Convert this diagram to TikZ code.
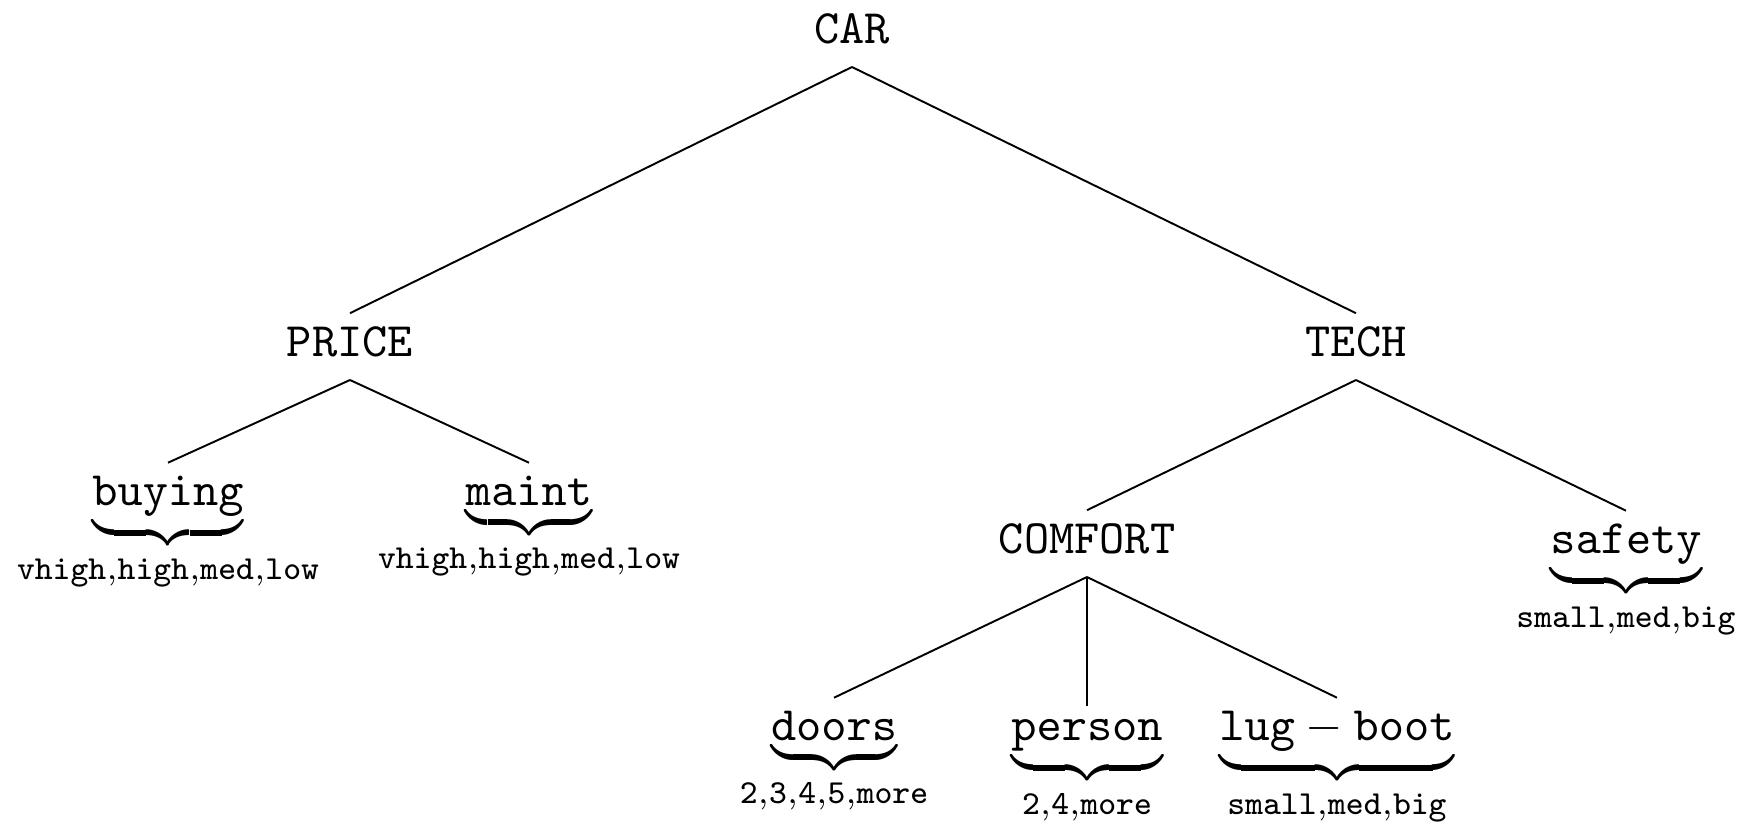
\documentclass[tikz,border=0pt]{standalone}
\begin{document}
\begin{tikzpicture}[x=0.208333pt,y=-0.208333pt,
  every node/.style={inner sep=2.5pt},
  parent/.style={anchor=base, text depth=2.3pt, font=\ttfamily},
  leaf/.style={anchor=base},
  edge/.style={line width=0.4pt}]
\useasboundingbox (0,0) rectangle (1740,825);
\node[parent] (car) at (852,43) {CAR};
\node[parent] (price) at (350,356) {PRICE};
\node[parent] (tech) at (1356,356) {TECH};
\node[parent] (comfort) at (1087,553) {COMFORT};
\node[leaf] (buying) at (168,505) {$\underbrace{\mathtt{buying}}_{\mathtt{vhigh,high,med,low}}$};
\node[leaf] (maint) at (529,505) {$\underbrace{\mathtt{maint}}_{\mathtt{vhigh,high,med,low}}$};
\node[leaf] (safety) at (1626,553) {$\underbrace{\mathtt{safety}}_{\mathtt{small,med,big}}$};
\node[leaf] (doors) at (834,740) {$\underbrace{\mathtt{doors}}_{\mathtt{2,3,4,5,more}}$};
\node[leaf] (person) at (1087,740) {$\underbrace{\mathtt{person}}_{\mathtt{2,4,more}}$};
\node[leaf] (lugboot) at (1337,740) {$\underbrace{\mathtt{lug-boot}}_{\mathtt{small,med,big}}$};
\draw[edge] (car.south) -- (price.north);
\draw[edge] (car.south) -- (tech.north);
\draw[edge] (price.south) -- (buying.north);
\draw[edge] (price.south) -- (maint.north);
\draw[edge] (tech.south) -- (comfort.north);
\draw[edge] (tech.south) -- (safety.north);
\draw[edge] (comfort.south) -- (doors.north);
\draw[edge] (comfort.south) -- (person.north);
\draw[edge] (comfort.south) -- (lugboot.north);
\end{tikzpicture}
\end{document}
